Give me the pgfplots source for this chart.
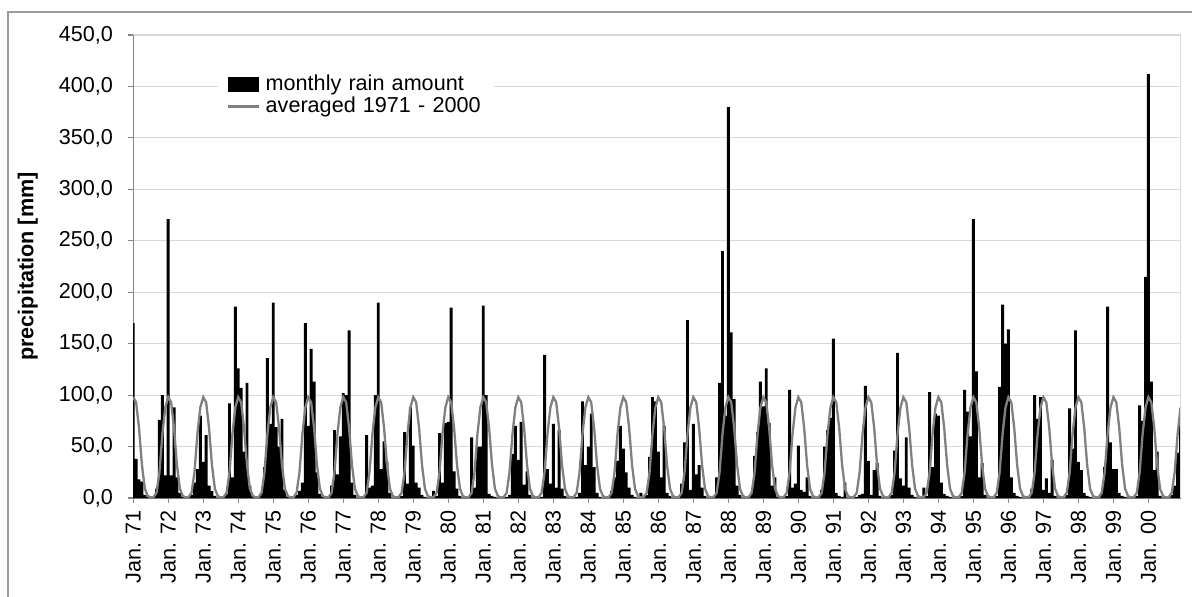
\documentclass[border=0pt]{standalone}
\usepackage{pgfplots}
\pgfplotsset{compat=1.18}
\usepackage{pgfplotstable}
\usepackage{fontspec}
\setmainfont{Liberation Sans}

\definecolor{gridgray}{RGB}{216,216,216}
\definecolor{axisgray}{RGB}{134,134,134}
\definecolor{avggray}{RGB}{128,128,128}
\definecolor{framegray}{RGB}{155,155,155}

% monthly rain amount (v) and the 1971-2000 monthly average (c), Jan 1971 - Dec 2000
\pgfplotstableread[row sep=\\]{
v c \\
170 98 \\ 38 93 \\ 18 68 \\ 16 32 \\ 3 9 \\ 1 2 \\ 0 0.5 \\ 1 1 \\ 9 5 \\ 76 25 \\ 100 62 \\ 22 88 \\
271 98 \\ 22 93 \\ 88 68 \\ 20 32 \\ 5 9 \\ 1 2 \\ 0 0.5 \\ 1 1 \\ 3 5 \\ 15 25 \\ 28 62 \\ 80 88 \\
35 98 \\ 61 93 \\ 12 68 \\ 7 32 \\ 2 9 \\ 0 2 \\ 0 0.5 \\ 1 1 \\ 4 5 \\ 92 25 \\ 20 62 \\ 186 88 \\
126 98 \\ 107 93 \\ 45 68 \\ 112 32 \\ 12 9 \\ 2 2 \\ 0 0.5 \\ 1 1 \\ 5 5 \\ 30 25 \\ 136 62 \\ 72 88 \\
190 98 \\ 69 93 \\ 50 68 \\ 77 32 \\ 8 9 \\ 1 2 \\ 0 0.5 \\ 0 1 \\ 3 5 \\ 7 25 \\ 15 62 \\ 170 88 \\
70 98 \\ 145 93 \\ 113 68 \\ 25 32 \\ 4 9 \\ 1 2 \\ 0 0.5 \\ 0 1 \\ 12 5 \\ 66 25 \\ 23 62 \\ 60 88 \\
102 98 \\ 100 93 \\ 163 68 \\ 15 32 \\ 3 9 \\ 0 2 \\ 0 0.5 \\ 0 1 \\ 61 5 \\ 10 25 \\ 12 62 \\ 100 88 \\
190 98 \\ 28 93 \\ 55 68 \\ 35 32 \\ 5 9 \\ 0 2 \\ 0 0.5 \\ 1 1 \\ 2 5 \\ 64 25 \\ 14 62 \\ 88 88 \\
51 98 \\ 15 93 \\ 10 68 \\ 3 32 \\ 1 9 \\ 0 2 \\ 0 0.5 \\ 7 1 \\ 2 5 \\ 63 25 \\ 15 62 \\ 73 88 \\
74 98 \\ 185 93 \\ 26 68 \\ 9 32 \\ 2 9 \\ 0 2 \\ 0 0.5 \\ 1 1 \\ 59 5 \\ 10 25 \\ 50 62 \\ 50 88 \\
187 98 \\ 100 93 \\ 4 68 \\ 2 32 \\ 1 9 \\ 0 2 \\ 0 0.5 \\ 0 1 \\ 1 5 \\ 3 25 \\ 43 62 \\ 70 88 \\
37 98 \\ 74 93 \\ 13 68 \\ 26 32 \\ 3 9 \\ 0 2 \\ 0 0.5 \\ 0 1 \\ 1 5 \\ 139 25 \\ 28 62 \\ 14 88 \\
72 98 \\ 10 93 \\ 66 68 \\ 9 32 \\ 2 9 \\ 0 2 \\ 0 0.5 \\ 0 1 \\ 1 5 \\ 5 25 \\ 94 62 \\ 32 88 \\
50 98 \\ 82 93 \\ 30 68 \\ 5 32 \\ 1 9 \\ 0 2 \\ 0 0.5 \\ 0 1 \\ 7 5 \\ 20 25 \\ 36 62 \\ 70 88 \\
48 98 \\ 25 93 \\ 10 68 \\ 3 32 \\ 1 9 \\ 0 2 \\ 5 0.5 \\ 2 1 \\ 3 5 \\ 40 25 \\ 98 62 \\ 94 88 \\
45 98 \\ 20 93 \\ 70 68 \\ 5 32 \\ 2 9 \\ 0 2 \\ 0 0.5 \\ 0 1 \\ 14 5 \\ 54 25 \\ 173 62 \\ 8 88 \\
72 98 \\ 23 93 \\ 32 68 \\ 10 32 \\ 2 9 \\ 0 2 \\ 0 0.5 \\ 2 1 \\ 20 5 \\ 112 25 \\ 240 62 \\ 80 88 \\
380 98 \\ 161 93 \\ 96 68 \\ 12 32 \\ 3 9 \\ 0 2 \\ 0 0.5 \\ 0 1 \\ 5 5 \\ 41 25 \\ 64 62 \\ 113 88 \\
89 98 \\ 126 93 \\ 73 68 \\ 12 32 \\ 20 9 \\ 1 2 \\ 0 0.5 \\ 0 1 \\ 2 5 \\ 105 25 \\ 10 62 \\ 14 88 \\
51 98 \\ 8 93 \\ 6 68 \\ 20 32 \\ 2 9 \\ 0 2 \\ 0 0.5 \\ 0 1 \\ 8 5 \\ 50 25 \\ 66 62 \\ 78 88 \\
155 98 \\ 5 93 \\ 2 68 \\ 1 32 \\ 15 9 \\ 0 2 \\ 0 0.5 \\ 0 1 \\ 1 5 \\ 3 25 \\ 4 62 \\ 109 88 \\
36 98 \\ 3 93 \\ 27 68 \\ 34 32 \\ 2 9 \\ 0 2 \\ 0 0.5 \\ 0 1 \\ 3 5 \\ 46 25 \\ 141 62 \\ 19 88 \\
12 98 \\ 59 93 \\ 10 68 \\ 3 32 \\ 1 9 \\ 0 2 \\ 0 0.5 \\ 10 1 \\ 2 5 \\ 103 25 \\ 30 62 \\ 82 88 \\
80 98 \\ 15 93 \\ 4 68 \\ 2 32 \\ 1 9 \\ 0 2 \\ 0 0.5 \\ 0 1 \\ 2 5 \\ 105 25 \\ 84 62 \\ 60 88 \\
271 98 \\ 123 93 \\ 20 68 \\ 34 32 \\ 3 9 \\ 0 2 \\ 0 0.5 \\ 0 1 \\ 2 5 \\ 108 25 \\ 188 62 \\ 150 88 \\
164 98 \\ 20 93 \\ 5 68 \\ 2 32 \\ 1 9 \\ 0 2 \\ 0 0.5 \\ 0 1 \\ 9 5 \\ 100 25 \\ 77 62 \\ 98 88 \\
8 98 \\ 19 93 \\ 5 68 \\ 37 32 \\ 2 9 \\ 0 2 \\ 0 0.5 \\ 0 1 \\ 3 5 \\ 87 25 \\ 48 62 \\ 163 88 \\
35 98 \\ 27 93 \\ 5 68 \\ 2 32 \\ 1 9 \\ 0 2 \\ 0 0.5 \\ 0 1 \\ 5 5 \\ 30 25 \\ 186 62 \\ 54 88 \\
28 98 \\ 28 93 \\ 5 68 \\ 2 32 \\ 1 9 \\ 0 2 \\ 0 0.5 \\ 0 1 \\ 2 5 \\ 90 25 \\ 75 62 \\ 215 88 \\
412 98 \\ 113 93 \\ 27 68 \\ 45 32 \\ 2 9 \\ 0 2 \\ 0 0.5 \\ 0 1 \\ 3 5 \\ 12 25 \\ 44 62 \\ 73 88 \\
}\rain

\begin{document}
\begin{tikzpicture}
\path[use as bounding box] (0,0) rectangle (596pt,298pt);
% chart frame
\draw[framegray, line width=0.8pt] (4pt,-20pt) rectangle (620pt,292pt);
\begin{axis}[
  name=ax,
  at={(66.6pt,49pt)}, anchor=south west,
  scale only axis, width=523.65pt, height=231.5pt,
  xmin=0, xmax=359, ymin=0, ymax=450,
  axis lines=left,
  axis line style={-, axisgray, line width=0.6pt},
  tick style={axisgray, line width=0.6pt},
  tick align=outside,
  major tick length=2.6pt,
  xtick={0,12,...,348},
  xticklabels={Jan. 71,Jan. 72,Jan. 73,Jan. 74,Jan. 75,Jan. 76,Jan. 77,Jan. 78,Jan. 79,Jan. 80,Jan. 81,Jan. 82,Jan. 83,Jan. 84,Jan. 85,Jan. 86,Jan. 87,Jan. 88,Jan. 89,Jan. 90,Jan. 91,Jan. 92,Jan. 93,Jan. 94,Jan. 95,Jan. 96,Jan. 97,Jan. 98,Jan. 99,Jan. 00},
  x tick label style={rotate=90, anchor=east, font=\fontsize{10.8}{13}\selectfont},
  ytick={0,50,...,450},
  scaled y ticks=false,
  y tick label style={font=\fontsize{10.8}{13}\selectfont, xshift=-4pt,
    /pgf/number format/.cd, fixed, fixed zerofill, precision=1, use comma, assume math mode=true},
  ymajorgrids,
  grid style={gridgray, line width=0.6pt},
  ylabel={precipitation [mm]},
  ylabel style={font=\fontsize{10.8}{13}\selectfont\bfseries, at={(axis description cs:-0.1006,0.5)}, anchor=center},
  legend style={at={(0.081,0.9417)}, anchor=north west, draw=none, fill=white,
    inner xsep=4pt, inner ysep=5.5pt, font=\fontsize{10.8}{13}\selectfont,
    nodes={inner sep=0pt, text height=8.5pt, text depth=2.5pt}, row sep=0pt,
    /tikz/every odd column/.append style={column sep=3pt},
    /tikz/every even column/.append style={text width=110pt}},
  legend cell align=left,
]
\addplot[ybar, bar width=1.0, fill=black, draw=none,
  legend image code/.code={\fill[black] (0pt,-3.75pt) rectangle (15.5pt,3.75pt);}]
  table[x expr=\coordindex, y=v] {\rain};
\addplot[avggray, line width=1.15pt, no marks,
  legend image code/.code={\draw[avggray, line width=1.15pt] (0pt,0pt) -- (15.5pt,0pt);}]
  table[x expr=\coordindex, y=c] {\rain};
\legend{monthly rain amount, averaged 1971 - 2000}
\end{axis}
\draw[gridgray, line width=0.6pt] (ax.south east) -- (ax.north east);
\end{tikzpicture}
\end{document}
